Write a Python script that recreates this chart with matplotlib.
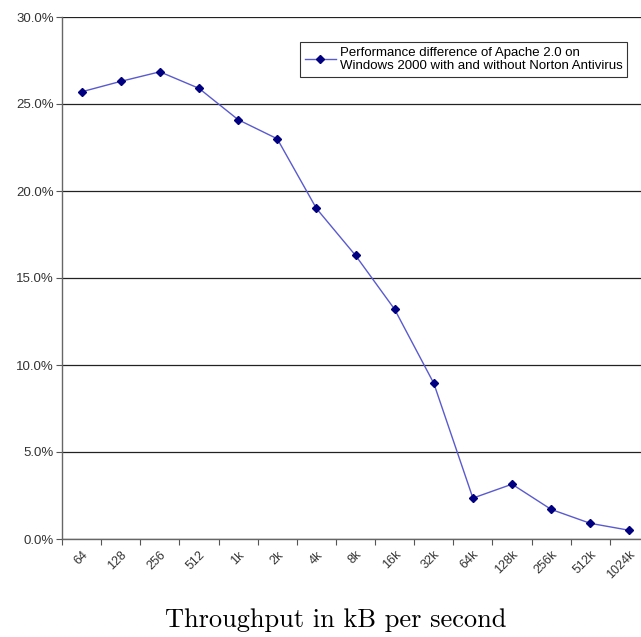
import matplotlib
matplotlib.use("Agg")
import matplotlib.pyplot as plt
import numpy as np

categories = ["64", "128", "256", "512", "1k", "2k", "4k", "8k", "16k", "32k",
              "64k", "128k", "256k", "512k", "1024k"]
values = [25.7, 26.3, 26.85, 25.9, 24.1, 23.0, 19.0, 16.3, 13.2, 8.95,
          2.35, 3.15, 1.7, 0.9, 0.5]
yticks = [0, 5, 10, 15, 20, 25, 30]
series_label = "Performance difference of Apache 2.0 on\nWindows 2000 with and without Norton Antivirus"
xlabel = "Throughput in kB per second"

W, H = 641, 637
fig = plt.figure(figsize=(W / 100, H / 100), dpi=100)
AX_L, AX_R, AX_T, AX_B = 62, 649, 17, 539
ax = fig.add_axes([AX_L / W, 1 - AX_B / H, (AX_R - AX_L) / W, (AX_B - AX_T) / H])

x = np.arange(len(categories))
ax.plot(x, values, color="#5a5ad0", lw=1.0, marker="D", ms=4,
        mfc="#000080", mec="#000080", label=series_label, zorder=3)

ax.set_xlim(-0.5, len(categories) - 0.5)
ax.set_ylim(0, 30)
ax.set_yticks(yticks)
ax.set_yticklabels([f"{v:.1f}%" for v in yticks], fontname="Liberation Sans",
                   fontsize=9.5, color="#333333")
ax.yaxis.grid(True, color="#222222", lw=0.9)
ax.set_axisbelow(True)

ax.set_xticks(np.arange(len(categories) + 1) - 0.5)
ax.set_xticklabels([])
ax.set_xticks(x, minor=True)
ax.set_xticklabels(categories, minor=True, rotation=45, ha="right",
                   rotation_mode="anchor", fontname="Liberation Sans",
                   fontsize=9, color="#333333")
ax.tick_params(axis="x", which="minor", length=0, pad=7)
ax.tick_params(axis="x", which="major", length=4, direction="out", color="#555555")
ax.tick_params(axis="y", length=4, direction="out", color="#555555", pad=2)

for s in ["top", "right"]:
    ax.spines[s].set_visible(False)
for s in ["left", "bottom"]:
    ax.spines[s].set_color("#666666")
    ax.spines[s].set_linewidth(1.0)

leg = ax.legend(loc="upper right",
                bbox_to_anchor=((627 - AX_L) / (AX_R - AX_L), (AX_B - 42) / (AX_B - AX_T)),
                prop={"family": "Liberation Sans", "size": 9.5}, frameon=True,
                fancybox=False, borderpad=0.35, handlelength=2.35, handletextpad=0.3,
                labelspacing=0.2, borderaxespad=0)
leg.get_frame().set_edgecolor("black")
leg.get_frame().set_linewidth(0.8)

fig.text(336 / W, 1 - 620 / H, xlabel, ha="center", va="center",
         fontname="cmr10", fontsize=19)

fig.savefig("out.png", dpi=100)
